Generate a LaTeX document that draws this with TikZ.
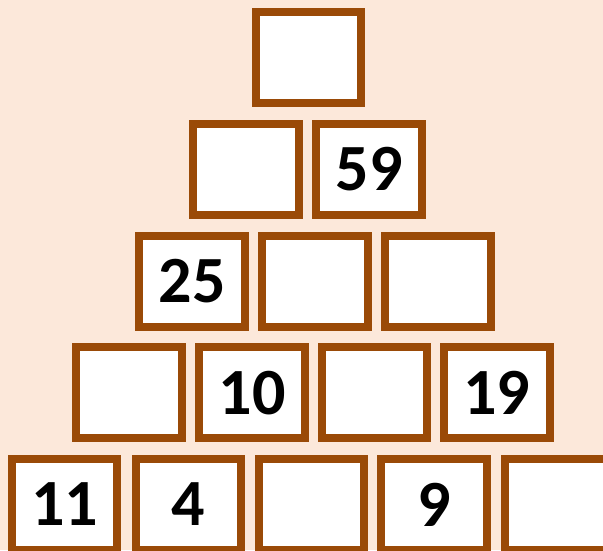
\documentclass[tikz,border=0pt]{standalone}
\usepackage{fontspec}
\setmainfont{Carlito}
\definecolor{bgpeach}{HTML}{FCE8DA}
\definecolor{boxbrown}{HTML}{9A4A07}
\tikzset{
  cell/.style={draw=boxbrown, fill=white, line width=8pt, minimum width=105.5pt, minimum height=91pt, inner sep=0pt, font=\fontsize{66}{66}\selectfont\bfseries, text=black}
}
\begin{document}
\begin{tikzpicture}[x=1pt,y=-1pt]
\fill[bgpeach] (0,0) rectangle (603,550);
\useasboundingbox (0,0) rectangle (603,550);
% row 1
\node[cell] (r1c1) at (308.5,57.5) {};
% row 2
\node[cell] (r2c1) at (246,169) {};
\node[cell] (r2c2) at (369,169) {\raisebox{-2pt}{59}};
% row 3
\node[cell] (r3c1) at (192,281.2) {\raisebox{-2pt}{25}};
\node[cell] (r3c2) at (315,281.2) {};
\node[cell] (r3c3) at (438,281.2) {};
% row 4
\node[cell] (r4c1) at (129,392.8) {};
\node[cell] (r4c2) at (252,392.8) {\raisebox{-2pt}{10}};
\node[cell] (r4c3) at (374.6,392.8) {};
\node[cell] (r4c4) at (496.8,392.8) {\raisebox{-2pt}{19}};
% row 5
\node[cell] (r5c1) at (64.7,504.5) {\raisebox{-2pt}{11}};
\node[cell] (r5c2) at (188.4,504.5) {\raisebox{-2pt}{4}};
\node[cell] (r5c3) at (311.3,504.5) {};
\node[cell] (r5c4) at (434.2,504.5) {\raisebox{-2pt}{9}};
\node[cell] (r5c5) at (557.3,504.5) {};
\end{tikzpicture}
\end{document}
